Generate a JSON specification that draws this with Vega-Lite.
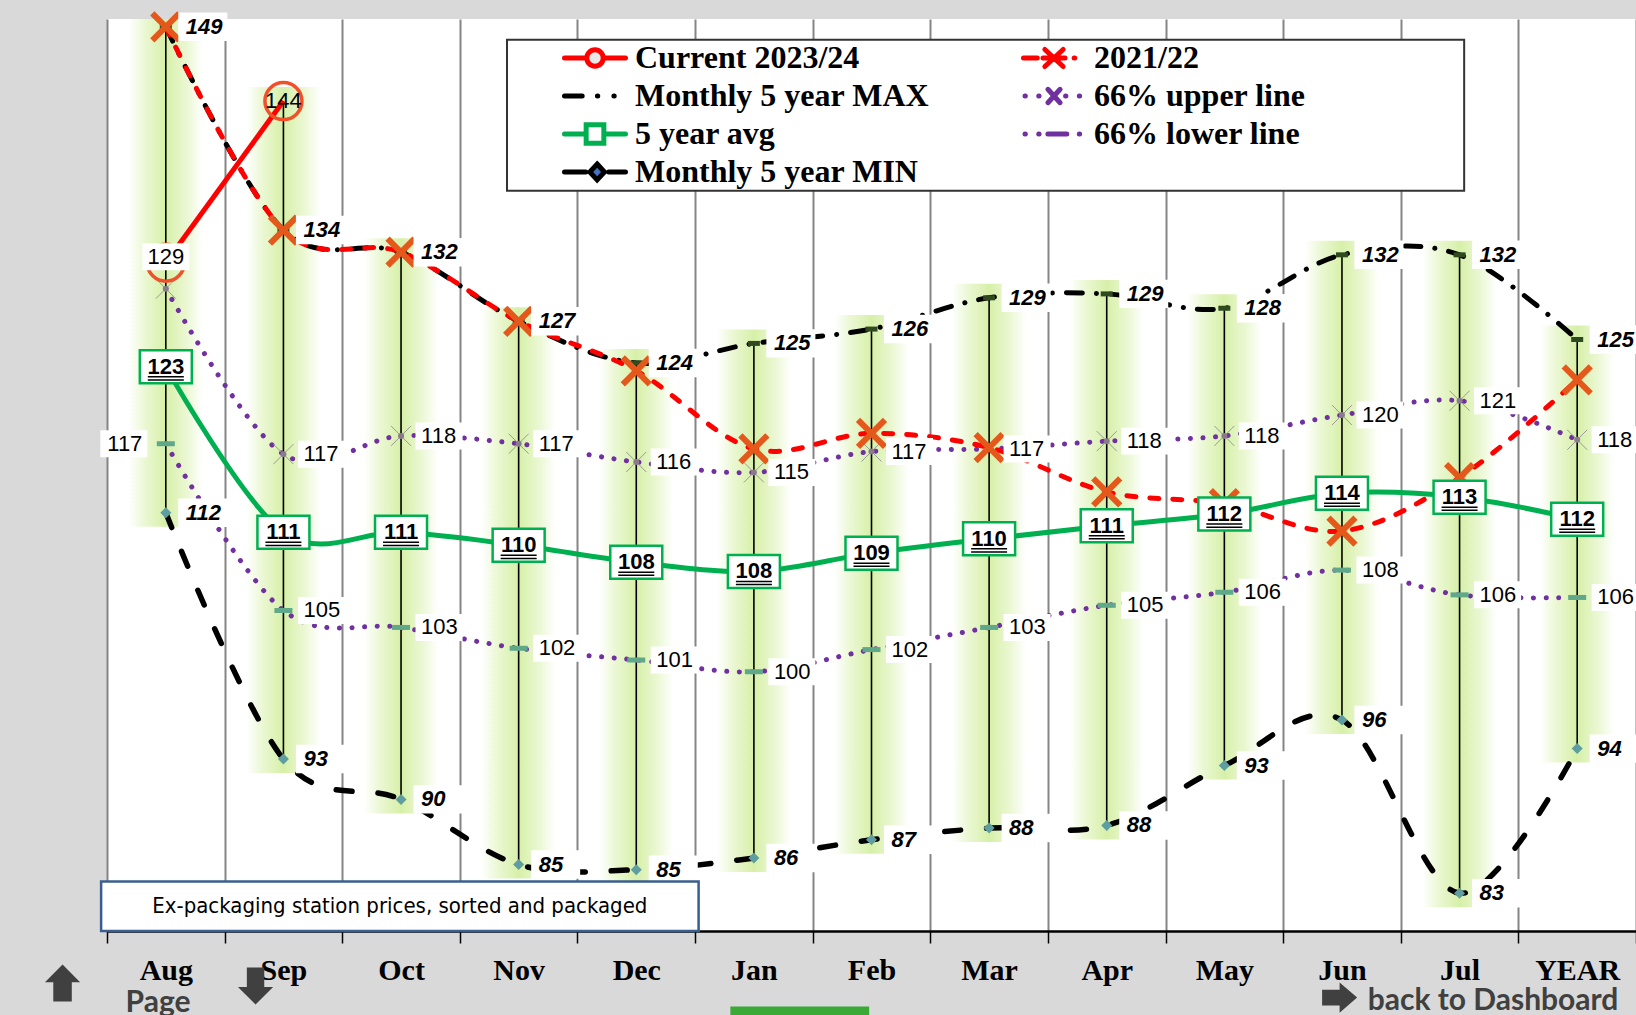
{
  "$schema": "https://vega.github.io/schema/vega-lite/v6.json",
  "width": 1529,
  "height": 912,
  "autosize": {"type": "none"},
  "padding": {"left": 107, "top": 19, "right": 0, "bottom": 84},
  "background": "#d9d9d9",
  "config": {"view": {"fill": "#ffffff", "stroke": null}},
  "datasets": {
    "d": [
      {"m": "Aug", "s": "Current 2023/24", "v": 131.3},
      {"m": "Sep", "s": "Current 2023/24", "v": 143.7},
      {"m": "Aug", "s": "Monthly 5 year MAX", "v": 149.4},
      {"m": "Sep", "s": "Monthly 5 year MAX", "v": 133.8},
      {"m": "Oct", "s": "Monthly 5 year MAX", "v": 132.1},
      {"m": "Nov", "s": "Monthly 5 year MAX", "v": 126.8},
      {"m": "Dec", "s": "Monthly 5 year MAX", "v": 123.6},
      {"m": "Jan", "s": "Monthly 5 year MAX", "v": 125.1},
      {"m": "Feb", "s": "Monthly 5 year MAX", "v": 126.2},
      {"m": "Mar", "s": "Monthly 5 year MAX", "v": 128.6},
      {"m": "Apr", "s": "Monthly 5 year MAX", "v": 128.9},
      {"m": "May", "s": "Monthly 5 year MAX", "v": 127.8},
      {"m": "Jun", "s": "Monthly 5 year MAX", "v": 131.9},
      {"m": "Jul", "s": "Monthly 5 year MAX", "v": 131.9},
      {"m": "YEAR", "s": "Monthly 5 year MAX", "v": 125.4},
      {"m": "Aug", "s": "2021/22", "v": 149.4},
      {"m": "Sep", "s": "2021/22", "v": 133.8},
      {"m": "Oct", "s": "2021/22", "v": 132.1},
      {"m": "Nov", "s": "2021/22", "v": 126.8},
      {"m": "Dec", "s": "2021/22", "v": 123.0},
      {"m": "Jan", "s": "2021/22", "v": 117.0},
      {"m": "Feb", "s": "2021/22", "v": 118.2},
      {"m": "Mar", "s": "2021/22", "v": 117.1},
      {"m": "Apr", "s": "2021/22", "v": 113.7},
      {"m": "May", "s": "2021/22", "v": 112.8},
      {"m": "Jun", "s": "2021/22", "v": 110.7},
      {"m": "Jul", "s": "2021/22", "v": 114.8},
      {"m": "YEAR", "s": "2021/22", "v": 122.3},
      {"m": "Aug", "s": "66% upper line", "v": 129.3},
      {"m": "Sep", "s": "66% upper line", "v": 116.6},
      {"m": "Oct", "s": "66% upper line", "v": 118.0},
      {"m": "Nov", "s": "66% upper line", "v": 117.4},
      {"m": "Dec", "s": "66% upper line", "v": 116.0},
      {"m": "Jan", "s": "66% upper line", "v": 115.2},
      {"m": "Feb", "s": "66% upper line", "v": 116.8},
      {"m": "Mar", "s": "66% upper line", "v": 117.0},
      {"m": "Apr", "s": "66% upper line", "v": 117.6},
      {"m": "May", "s": "66% upper line", "v": 118.0},
      {"m": "Jun", "s": "66% upper line", "v": 119.6},
      {"m": "Jul", "s": "66% upper line", "v": 120.7},
      {"m": "YEAR", "s": "66% upper line", "v": 117.7},
      {"m": "Aug", "s": "5 year avg", "v": 123.3},
      {"m": "Sep", "s": "5 year avg", "v": 110.6},
      {"m": "Oct", "s": "5 year avg", "v": 110.6},
      {"m": "Nov", "s": "5 year avg", "v": 109.6},
      {"m": "Dec", "s": "5 year avg", "v": 108.3},
      {"m": "Jan", "s": "5 year avg", "v": 107.6},
      {"m": "Feb", "s": "5 year avg", "v": 109.0},
      {"m": "Mar", "s": "5 year avg", "v": 110.1},
      {"m": "Apr", "s": "5 year avg", "v": 111.1},
      {"m": "May", "s": "5 year avg", "v": 112.0},
      {"m": "Jun", "s": "5 year avg", "v": 113.6},
      {"m": "Jul", "s": "5 year avg", "v": 113.3},
      {"m": "YEAR", "s": "5 year avg", "v": 111.6},
      {"m": "Aug", "s": "66% lower line", "v": 117.4},
      {"m": "Sep", "s": "66% lower line", "v": 104.6},
      {"m": "Oct", "s": "66% lower line", "v": 103.3},
      {"m": "Nov", "s": "66% lower line", "v": 101.7},
      {"m": "Dec", "s": "66% lower line", "v": 100.8},
      {"m": "Jan", "s": "66% lower line", "v": 99.9},
      {"m": "Feb", "s": "66% lower line", "v": 101.6},
      {"m": "Mar", "s": "66% lower line", "v": 103.3},
      {"m": "Apr", "s": "66% lower line", "v": 105.0},
      {"m": "May", "s": "66% lower line", "v": 106.0},
      {"m": "Jun", "s": "66% lower line", "v": 107.7},
      {"m": "Jul", "s": "66% lower line", "v": 105.8},
      {"m": "YEAR", "s": "66% lower line", "v": 105.6},
      {"m": "Aug", "s": "Monthly 5 year MIN", "v": 112.1},
      {"m": "Sep", "s": "Monthly 5 year MIN", "v": 93.2},
      {"m": "Oct", "s": "Monthly 5 year MIN", "v": 90.1},
      {"m": "Nov", "s": "Monthly 5 year MIN", "v": 85.1},
      {"m": "Dec", "s": "Monthly 5 year MIN", "v": 84.7},
      {"m": "Jan", "s": "Monthly 5 year MIN", "v": 85.6},
      {"m": "Feb", "s": "Monthly 5 year MIN", "v": 87.0},
      {"m": "Mar", "s": "Monthly 5 year MIN", "v": 87.9},
      {"m": "Apr", "s": "Monthly 5 year MIN", "v": 88.1},
      {"m": "May", "s": "Monthly 5 year MIN", "v": 92.7},
      {"m": "Jun", "s": "Monthly 5 year MIN", "v": 96.2},
      {"m": "Jul", "s": "Monthly 5 year MIN", "v": 82.9},
      {"m": "YEAR", "s": "Monthly 5 year MIN", "v": 94.0}
    ]
  },
  "resolve": {"scale": {"x": "independent"}},
  "layer": [
    {
      "data": {"name": "d"},
      "encoding": {
        "x": {
          "field": "m", "type": "nominal",
          "scale": {"type": "band", "domain": ["Aug","Sep","Oct","Nov","Dec","Jan","Feb","Mar","Apr","May","Jun","Jul","YEAR"], "paddingInner": 0, "paddingOuter": 0},
          "axis": {"title": null, "orient": "bottom", "tickBand": "extent", "domain": true, "domainColor": "#000000", "domainWidth": 2.5, "ticks": true, "tickColor": "#000000", "tickWidth": 1.5, "tickSize": 12, "grid": true, "gridColor": "#858585", "gridWidth": 2, "labelFont": "Liberation Serif", "labelFontWeight": "bold", "labelFontSize": 30, "labelColor": "#000000", "labelPadding": 12, "labelAngle": 0}
        },
        "y": {
          "field": "v", "type": "quantitative",
          "scale": {"domain": [80, 150], "nice": false, "zero": false},
          "axis": {"title": null, "values": [80,85,90,95,100,105,110,115,120,125,130,135,140,145,150], "grid": true, "gridColor": "#000000", "gridDash": [2, 2], "gridWidth": 1, "gridOpacity": 0.85, "domain": true, "domainColor": "#8c8c8c", "domainWidth": 2, "tickColor": "#595959", "tickSize": 10, "tickWidth": 1, "labelFont": "Liberation Serif", "labelFontWeight": "bold", "labelFontSize": 32, "labelColor": "#000000", "labelPadding": 7, "labelFlush": false}
        }
      },
      "layer": [
        {
          "transform": [{"aggregate": [{"op": "max", "field": "v", "as": "hi"}, {"op": "min", "field": "v", "as": "lo"}], "groupby": ["m"]}],
          "mark": {"type": "bar", "width": 74, "clip": true, "yOffset": 14, "y2Offset": -14,
            "fill": {"gradient": "linear", "x1": 0, "x2": 1, "y1": 0, "y2": 0, "stops": [
              {"offset": 0, "color": "rgba(214,240,166,0)"},
              {"offset": 0.22, "color": "rgba(214,240,166,0.5)"},
              {"offset": 0.5, "color": "rgba(210,238,158,0.9)"},
              {"offset": 0.78, "color": "rgba(214,240,166,0.5)"},
              {"offset": 1, "color": "rgba(214,240,166,0)"}]}},
          "encoding": {"y": {"field": "lo", "type": "quantitative"}, "y2": {"field": "hi"}}
        },
        {
          "transform": [{"aggregate": [{"op": "max", "field": "v", "as": "hi"}, {"op": "min", "field": "v", "as": "lo"}], "groupby": ["m"]}],
          "mark": {"type": "rule", "color": "#000000", "strokeWidth": 1.6},
          "encoding": {"y": {"field": "lo", "type": "quantitative"}, "y2": {"field": "hi"}}
        },
        {
          "transform": [{"filter": "datum.s === '66% upper line' || datum.s === '66% lower line'"}],
          "mark": {"type": "line", "color": "#7030a0", "strokeWidth": 5, "strokeDash": [0.1, 12.5], "strokeCap": "round", "interpolate": "cardinal"},
          "encoding": {"detail": {"field": "s", "type": "nominal"}}
        },
        {
          "transform": [{"filter": "datum.s === 'Monthly 5 year MIN'"}],
          "mark": {"type": "line", "color": "#000000", "strokeWidth": 5.5, "strokeDash": [16, 26], "strokeCap": "round", "interpolate": "cardinal"}
        },
        {
          "transform": [{"filter": "datum.s === 'Monthly 5 year MAX'"}],
          "mark": {"type": "line", "color": "#000000", "strokeWidth": 5, "strokeDash": [16, 14, 0.1, 14], "strokeCap": "round", "interpolate": "cardinal"}
        },
        {
          "transform": [{"filter": "datum.s === '2021/22'"}],
          "mark": {"type": "line", "color": "#ff0000", "strokeWidth": 5, "strokeDash": [9, 14], "strokeCap": "round", "interpolate": "cardinal"}
        },
        {
          "transform": [{"filter": "datum.s === '5 year avg'"}],
          "mark": {"type": "line", "color": "#00b050", "strokeWidth": 5, "interpolate": "cardinal"}
        },
        {
          "transform": [{"filter": "datum.s === 'Current 2023/24'"}],
          "mark": {"type": "line", "color": "#ff0000", "strokeWidth": 5}
        },
        {
          "transform": [{"filter": "datum.s === '66% upper line'"}],
          "mark": {"type": "point", "shape": "M-1,-1L1,1M-1,1L1,-1", "size": 400, "filled": false, "color": "#9a9a9a", "strokeWidth": 1, "opacity": 1}
        },
        {
          "transform": [{"filter": "datum.s === '66% upper line'"}],
          "mark": {"type": "point", "shape": "circle", "size": 36, "filled": true, "color": "#8a7b8c", "opacity": 1}
        },
        {
          "transform": [{"filter": "datum.s === '66% lower line'"}],
          "mark": {"type": "point", "shape": "M-1,0L1,0", "size": 324, "filled": false, "color": "#5fa88a", "strokeWidth": 5, "opacity": 1}
        },
        {
          "transform": [{"filter": "datum.s === 'Monthly 5 year MAX'"}],
          "mark": {"type": "point", "shape": "M-1,0L1,0", "size": 144, "filled": false, "color": "#2e4a1e", "strokeWidth": 5, "opacity": 1}
        },
        {
          "transform": [{"filter": "datum.s === 'Monthly 5 year MIN'"}],
          "mark": {"type": "point", "shape": "diamond", "size": 121, "filled": true, "color": "#5f9ea0", "opacity": 1}
        },
        {
          "transform": [{"filter": "datum.s === '2021/22'"}],
          "mark": {"type": "point", "shape": "M-1,-1L1,1M-1,1L1,-1", "size": 729, "filled": false, "color": "#e5581b", "strokeWidth": 6, "opacity": 1}
        },
        {
          "transform": [{"filter": "datum.s === 'Current 2023/24'"}],
          "mark": {"type": "point", "shape": "circle", "size": 1369, "filled": false, "color": "#f0502a", "strokeWidth": 3.5, "opacity": 1}
        },
        {
          "transform": [{"filter": "datum.s === 'Monthly 5 year MAX' || datum.s === 'Monthly 5 year MIN'"}],
          "mark": {"type": "point", "shape": "M-1,-0.58L1,-0.58L1,0.58L-1,0.58Z", "size": 2401, "filled": true, "color": "#ffffff", "opacity": 1, "xOffset": 37}
        },
        {
          "transform": [{"filter": "datum.s === 'Monthly 5 year MAX' || datum.s === 'Monthly 5 year MIN'"}],
          "mark": {"type": "text", "align": "left", "baseline": "middle", "dx": 20, "font": "Liberation Sans", "fontSize": 22, "fontWeight": "bold", "fontStyle": "italic", "color": "#000000"},
          "encoding": {"text": {"field": "v", "type": "quantitative", "format": ".0f"}}
        },
        {
          "transform": [{"filter": "(datum.s === '66% upper line' || datum.s === '66% lower line') && datum.m !== 'Aug'"}],
          "mark": {"type": "point", "shape": "M-1,-0.574L1,-0.574L1,0.574L-1,0.574Z", "size": 2209, "filled": true, "color": "#ffffff", "opacity": 1, "xOffset": 38}
        },
        {
          "transform": [{"filter": "(datum.s === '66% upper line' || datum.s === '66% lower line') && datum.m !== 'Aug'"}],
          "mark": {"type": "text", "align": "left", "baseline": "middle", "dx": 20, "font": "Liberation Sans", "fontSize": 22, "color": "#000000"},
          "encoding": {"text": {"field": "v", "type": "quantitative", "format": ".0f"}}
        },
        {
          "transform": [{"filter": "datum.s === '66% upper line' && datum.m === 'Aug'"}],
          "mark": {"type": "point", "shape": "M-1,-0.574L1,-0.574L1,0.574L-1,0.574Z", "size": 2209, "filled": true, "color": "#ffffff", "opacity": 1, "yOffset": -32}
        },
        {
          "transform": [{"filter": "datum.s === '66% upper line' && datum.m === 'Aug'"}],
          "mark": {"type": "text", "align": "center", "baseline": "middle", "dy": -32, "font": "Liberation Sans", "fontSize": 22, "color": "#000000"},
          "encoding": {"text": {"field": "v", "type": "quantitative", "format": ".0f"}}
        },
        {
          "transform": [{"filter": "datum.s === '66% lower line' && datum.m === 'Aug'"}],
          "mark": {"type": "point", "shape": "M-1,-0.574L1,-0.574L1,0.574L-1,0.574Z", "size": 2209, "filled": true, "color": "#ffffff", "opacity": 1, "xOffset": -42}
        },
        {
          "transform": [{"filter": "datum.s === '66% lower line' && datum.m === 'Aug'"}],
          "mark": {"type": "text", "align": "center", "baseline": "middle", "dx": -41, "font": "Liberation Sans", "fontSize": 22, "color": "#000000"},
          "encoding": {"text": {"field": "v", "type": "quantitative", "format": ".0f"}}
        },
        {
          "transform": [{"filter": "datum.s === '5 year avg'"}],
          "mark": {"type": "point", "shape": "M-1,-0.635L1,-0.635L1,0.635L-1,0.635Z", "size": 2704, "filled": true, "fill": "#ffffff", "stroke": "#00b050", "strokeWidth": 2.5, "opacity": 1}
        },
        {
          "transform": [{"filter": "datum.s === '5 year avg'"}],
          "mark": {"type": "text", "align": "center", "baseline": "middle", "font": "Liberation Sans", "fontSize": 22, "fontWeight": "bold", "color": "#000000"},
          "encoding": {"text": {"field": "v", "type": "quantitative", "format": ".0f"}}
        },
        {
          "transform": [{"filter": "datum.s === '5 year avg'"}],
          "mark": {"type": "point", "shape": "M-1,0L1,0M-1,0.17L1,0.17", "size": 1296, "filled": false, "color": "#000000", "strokeWidth": 1.5, "yOffset": 10, "opacity": 1}
        },
        {
          "transform": [{"filter": "datum.s === 'Current 2023/24' && datum.m === 'Sep'"}],
          "mark": {"type": "text", "align": "center", "baseline": "middle", "font": "Liberation Sans", "fontSize": 22, "color": "#000000"},
          "encoding": {"text": {"field": "v", "type": "quantitative", "format": ".0f"}}
        },
        {
          "data": {"values": []},
          "mark": {"type": "point", "filled": false, "opacity": 1},
          "encoding": {
            "stroke": {"field": "s", "type": "nominal",
              "scale": {"domain": ["Current 2023/24", "Monthly 5 year MAX", "5 year avg", "Monthly 5 year MIN", "2021/22", "66% upper line", "66% lower line"],
                        "range": ["#ff0000", "#000000", "#00b050", "#000000", "#ff0000", "#7030a0", "#7030a0"]},
              "legend": {"orient": "none", "legendX": 455, "legendY": 22, "columns": 2, "columnPadding": 91, "rowPadding": 4, "clipHeight": 34, "symbolSize": 3721, "symbolStrokeWidth": 5, "symbolOpacity": 1, "symbolOffset": 0, "labelFont": "Liberation Serif", "labelFontSize": 32, "labelFontWeight": "bold", "labelColor": "#000000", "labelOffset": 7, "labelLimit": 1000, "title": null, "padding": 0, "encode": {"symbols": {"update": {"strokeCap": {"value": "round"}, "strokeWidth": {"value": 5}}}}}},
            "fill": {"field": "s", "type": "nominal",
              "scale": {"domain": ["Current 2023/24", "Monthly 5 year MAX", "5 year avg", "Monthly 5 year MIN", "2021/22", "66% upper line", "66% lower line"],
                        "range": ["#e8e8e8", "rgba(0,0,0,0)", "#ffffff", "#4472c4", "rgba(0,0,0,0)", "rgba(0,0,0,0)", "rgba(0,0,0,0)"]},
              "legend": {"orient": "none", "legendX": 455, "legendY": 22, "columns": 2, "columnPadding": 91, "rowPadding": 4, "clipHeight": 34, "symbolSize": 3721, "symbolStrokeWidth": 5, "symbolOpacity": 1, "symbolOffset": 0, "labelFont": "Liberation Serif", "labelFontSize": 32, "labelFontWeight": "bold", "labelColor": "#000000", "labelOffset": 7, "labelLimit": 1000, "title": null, "padding": 0, "encode": {"symbols": {"update": {"strokeCap": {"value": "round"}, "strokeWidth": {"value": 5}}}}}},
            "shape": {"field": "s", "type": "nominal",
              "scale": {"domain": ["Current 2023/24", "Monthly 5 year MAX", "5 year avg", "Monthly 5 year MIN", "2021/22", "66% upper line", "66% lower line"],
                        "range": [
                          "M-1,0L-0.3,0M0.3,0L1,0M0.27,0A0.27,0.27,0,1,1,-0.27,0A0.27,0.27,0,1,1,0.27,0Z",
                          "M-1,0L-0.42,0M0.08,0L0.09,0M0.62,0L0.63,0",
                          "M-1,0L-0.3,0M0.3,0L1,0M-0.29,-0.3L0.29,-0.3L0.29,0.3L-0.29,0.3Z",
                          "M-1,0L-0.3,0M0.45,0L1,0M0.07,-0.26L0.31,0L0.07,0.26L-0.17,0Z",
                          "M-1,0L-0.55,0M-0.3,-0.28L0.3,0.28M-0.3,0.28L0.3,-0.28M-0.36,0L0.36,0M0.66,0L0.68,0",
                          "M-0.95,0L-0.94,0M-0.5,0L-0.49,0M0.38,0L0.39,0M0.83,0L0.84,0M-0.2,-0.22L0.2,0.22M-0.2,0.22L0.2,-0.22",
                          "M-0.95,0L-0.94,0M-0.5,0L-0.49,0M0.83,0L0.84,0M-0.2,0L0.42,0"]},
              "legend": {"orient": "none", "legendX": 455, "legendY": 22, "columns": 2, "columnPadding": 91, "rowPadding": 4, "clipHeight": 34, "symbolSize": 3721, "symbolStrokeWidth": 5, "symbolOpacity": 1, "symbolOffset": 0, "labelFont": "Liberation Serif", "labelFontSize": 32, "labelFontWeight": "bold", "labelColor": "#000000", "labelOffset": 7, "labelLimit": 1000, "title": null, "padding": 0, "encode": {"symbols": {"update": {"strokeCap": {"value": "round"}, "strokeWidth": {"value": 5}}}}}}
          }
        }
      ]
    },
    {
      "layer": [
        {
          "data": {"values": [{}]},
          "mark": {"type": "rect", "fill": "#ffffff", "stroke": "#333333", "strokeWidth": 2},
          "encoding": {
            "x": {"datum": 2.901, "type": "quantitative", "scale": {"domain": [-0.5, 12.5], "nice": false, "zero": false}, "axis": null},
            "x2": {"datum": 11.039},
            "y": {"datum": 148.41, "type": "quantitative", "scale": {"domain": [80, 150], "nice": false, "zero": false}, "axis": null},
            "y2": {"datum": 136.82}
          }
        },
        {
          "data": {"values": [{}]},
          "mark": {"type": "rect", "fill": "#ffffff", "stroke": "#3a5f8f", "strokeWidth": 2.5},
          "encoding": {
            "x": {"datum": -0.55, "type": "quantitative", "axis": null},
            "x2": {"datum": 4.53},
            "y": {"datum": 80, "type": "quantitative", "axis": null},
            "y2": {"datum": 83.8}
          }
        },
        {
          "data": {"values": [{}]},
          "mark": {"type": "text", "text": "Ex-packaging station prices, sorted and packaged", "font": "Liberation Sans Narrow, DejaVu Sans Condensed, Liberation Sans", "fontSize": 22, "color": "#000000", "align": "center", "baseline": "middle"},
          "encoding": {
            "x": {"datum": 1.99, "type": "quantitative", "axis": null},
            "y": {"datum": 81.9, "type": "quantitative", "axis": null}
          }
        },
        {
          "data": {"values": [{}]},
          "mark": {"type": "text", "text": "Page", "font": "Lato", "fontWeight": "bold", "fontSize": 30, "color": "#404040", "align": "center", "baseline": "alphabetic"},
          "encoding": {
            "x": {"datum": -0.066, "type": "quantitative", "axis": null},
            "y": {"datum": 73.81, "type": "quantitative", "axis": null}
          }
        },
        {
          "data": {"values": [{}]},
          "mark": {"type": "text", "text": "back to Dashboard", "font": "Lato", "fontWeight": "bold", "fontSize": 30, "color": "#404040", "align": "right", "baseline": "alphabetic"},
          "encoding": {
            "x": {"datum": 12.35, "type": "quantitative", "axis": null},
            "y": {"datum": 73.97, "type": "quantitative", "axis": null}
          }
        },
        {
          "data": {"values": [{}]},
          "mark": {"type": "point", "shape": "M0,-1L0.95,-0.05L0.5,-0.05L0.5,1L-0.5,1L-0.5,-0.05L-0.95,-0.05Z", "size": 1369, "filled": true, "color": "#404040", "opacity": 1},
          "encoding": {
            "x": {"datum": -0.878, "type": "quantitative", "axis": null},
            "y": {"datum": 76.0, "type": "quantitative", "axis": null}
          }
        },
        {
          "data": {"values": [{}]},
          "mark": {"type": "point", "shape": "M0,1L0.95,0.05L0.47,0.05L0.47,-1L-0.47,-1L-0.47,0.05L-0.95,0.05Z", "size": 1369, "filled": true, "color": "#404040", "opacity": 1},
          "encoding": {
            "x": {"datum": 0.763, "type": "quantitative", "axis": null},
            "y": {"datum": 75.77, "type": "quantitative", "axis": null}
          }
        },
        {
          "data": {"values": [{}]},
          "mark": {"type": "point", "shape": "M1,0L0,-0.86L0,-0.45L-1,-0.45L-1,0.45L0,0.45L0,0.86Z", "size": 1225, "filled": true, "color": "#404040", "opacity": 1},
          "encoding": {
            "x": {"datum": 9.98, "type": "quantitative", "axis": null},
            "y": {"datum": 74.89, "type": "quantitative", "axis": null}
          }
        },
        {
          "data": {"values": [{}]},
          "mark": {"type": "rect", "fill": "#3aa935"},
          "encoding": {
            "x": {"datum": 4.80, "type": "quantitative", "axis": null},
            "x2": {"datum": 5.98},
            "y": {"datum": 74.2, "type": "quantitative", "axis": null},
            "y2": {"datum": 72.0}
          }
        }
      ]
    }
  ]
}
